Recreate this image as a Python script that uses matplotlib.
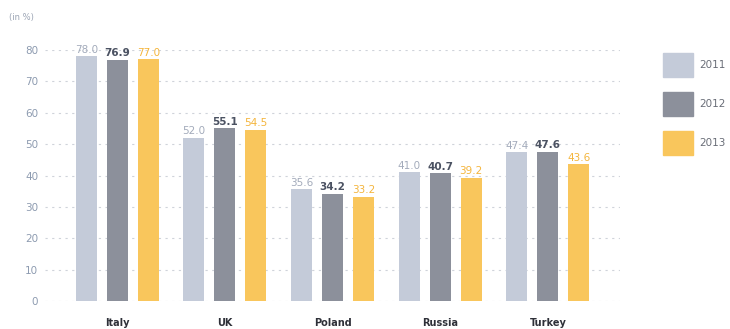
import matplotlib.pyplot as plt
import numpy as np

countries = ['Italy', 'UK', 'Poland', 'Russia', 'Turkey']
years = ['2011', '2012', '2013']
v2011 = [78.0, 52.0, 35.6, 41.0, 47.4]
v2012 = [76.9, 55.1, 34.2, 40.7, 47.6]
v2013 = [77.0, 54.5, 33.2, 39.2, 43.6]

bar_colors = ['#c4cbd9', '#8c909b', '#f9c65c']
label_colors = ['#a3abbb', '#4b5262', '#f4b53c']
label_weights = ['normal', 'bold', 'normal']

fig = plt.figure(figsize=(7.3, 3.29), dpi=100)
ax = fig.add_axes([0.062, 0.085, 0.787, 0.763])

x = np.arange(len(countries))
w = 0.195
step = 0.288
for k, vals in enumerate([v2011, v2012, v2013]):
    pos = x + (k - 1) * step
    ax.bar(pos, vals, width=w, color=bar_colors[k], zorder=2, label=years[k])
    for px, v in zip(pos, vals):
        ax.text(px, v + 0.5, '%.1f' % v, ha='center', va='bottom', fontsize=7.5,
                color=label_colors[k], fontweight=label_weights[k], clip_on=False)

ax.set_xlim(-0.668, 4.668)
ax.set_ylim(0, 80)
ax.set_yticks(range(0, 81, 10))
ax.yaxis.grid(True, linestyle=(0, (2, 4)), color='#cfd3da', linewidth=0.8, zorder=0)
ax.set_axisbelow(True)
for s in ax.spines.values():
    s.set_visible(False)
ax.tick_params(axis='y', length=0, labelsize=7.5, labelcolor='#8d9bb0', pad=5)
ax.tick_params(axis='x', length=0, pad=12)
ax.set_xticks(x)
ax.set_xticklabels(countries, fontsize=7, fontweight='bold', color='#2e3038')

fig.text(0.012, 0.94, '(in %)', fontsize=6, color='#9aa3b3')

# legend drawn as swatches on the right side
for k, yr in enumerate(years):
    y0 = 1 - (77 + k * 39) / 329
    fig.patches.append(plt.Rectangle((663 / 730, y0), 30 / 730, 24 / 329,
                                     transform=fig.transFigure, color=bar_colors[k]))
    fig.text(699 / 730, y0 + 12 / 329, yr, fontsize=7.5, color='#6a6e78', va='center')

fig.savefig('out.png', dpi=100)
